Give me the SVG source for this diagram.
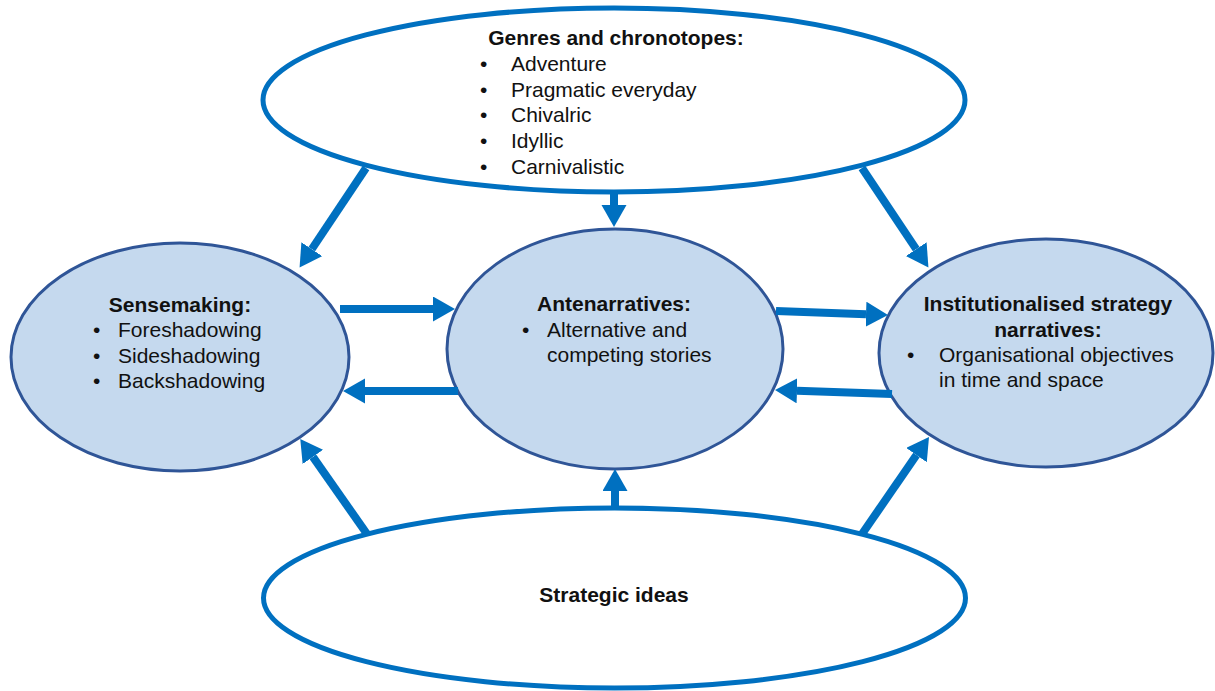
<svg xmlns="http://www.w3.org/2000/svg" width="1215" height="691" viewBox="0 0 1215 691">
  <style>
    .outer { fill: #ffffff; stroke: #0070C0; stroke-width: 5; }
    .inner { fill: #C5D9EE; stroke: #2F5597; stroke-width: 3; }
    .head { font-family: "Liberation Sans", Arial, sans-serif; font-size: 21px; font-weight: bold; fill: #111111; }
    .item { font-family: "Liberation Sans", Arial, sans-serif; font-size: 21px; fill: #111111; }
    .link { stroke: #0070C0; stroke-width: 8; fill: none; marker-end: url(#arrow); }
  </style>
  <defs>
    <marker id="arrow" markerUnits="userSpaceOnUse" markerWidth="24" markerHeight="26" refX="0" refY="12.5" orient="auto">
      <path d="M0,0 L22,12.5 L0,25 Z" fill="#0070C0"/>
    </marker>
  </defs>

  <rect width="1215" height="691" fill="#ffffff"/>

  <g id="genres">
    <ellipse class="outer" cx="614" cy="100" rx="351" ry="92"/>
    <text class="head" x="616" y="45" text-anchor="middle">Genres and chronotopes:</text>
    <g class="item">
      <text x="480" y="71">•</text><text x="511" y="71">Adventure</text>
      <text x="480" y="97">•</text><text x="511" y="97">Pragmatic everyday</text>
      <text x="480" y="122">•</text><text x="511" y="122">Chivalric</text>
      <text x="480" y="148">•</text><text x="511" y="148">Idyllic</text>
      <text x="480" y="174">•</text><text x="511" y="174">Carnivalistic</text>
    </g>
  </g>

  <g id="strategic-ideas">
    <ellipse class="outer" cx="614.5" cy="598" rx="351" ry="90"/>
    <text class="head" x="614" y="602" text-anchor="middle">Strategic ideas</text>
  </g>

  <g id="sensemaking">
    <ellipse class="inner" cx="180" cy="357" rx="169" ry="114"/>
    <text class="head" x="180" y="312" text-anchor="middle">Sensemaking:</text>
    <g class="item">
      <text x="93" y="337">•</text><text x="118" y="337">Foreshadowing</text>
      <text x="93" y="363">•</text><text x="118" y="363">Sideshadowing</text>
      <text x="93" y="388">•</text><text x="118" y="388">Backshadowing</text>
    </g>
  </g>

  <g id="antenarratives">
    <ellipse class="inner" cx="615" cy="349" rx="168" ry="120"/>
    <text class="head" x="614" y="311" text-anchor="middle">Antenarratives:</text>
    <g class="item">
      <text x="522" y="337">•</text><text x="547" y="337">Alternative and</text>
      <text x="547" y="362">competing stories</text>
    </g>
  </g>

  <g id="institutionalised">
    <ellipse class="inner" cx="1046" cy="353" rx="167" ry="114"/>
    <text class="head" x="1048" y="311" text-anchor="middle">Institutionalised strategy</text>
    <text class="head" x="1048" y="337" text-anchor="middle">narratives:</text>
    <g class="item">
      <text x="907" y="362">•</text><text x="939" y="362">Organisational objectives</text>
      <text x="939" y="387">in time and space</text>
    </g>
  </g>

  <g id="connectors">
    <!-- from genres and chronotopes -->
    <line class="link" x1="366" y1="168" x2="311.8" y2="249.1"/>
    <line class="link" x1="614" y1="192" x2="614" y2="205"/>
    <line class="link" x1="862" y1="168" x2="916.2" y2="249.1"/>
    <!-- between the three narrative stages -->
    <line class="link" x1="340" y1="309" x2="433" y2="309"/>
    <line class="link" x1="458" y1="391" x2="365" y2="391"/>
    <line class="link" x1="776" y1="311" x2="866" y2="314.2"/>
    <line class="link" x1="892" y1="394" x2="797" y2="390.8"/>
    <!-- from strategic ideas -->
    <line class="link" x1="367" y1="534" x2="312.9" y2="456.9"/>
    <line class="link" x1="615" y1="508" x2="615" y2="491"/>
    <line class="link" x1="862" y1="534" x2="916.5" y2="455.1"/>
  </g>
</svg>
